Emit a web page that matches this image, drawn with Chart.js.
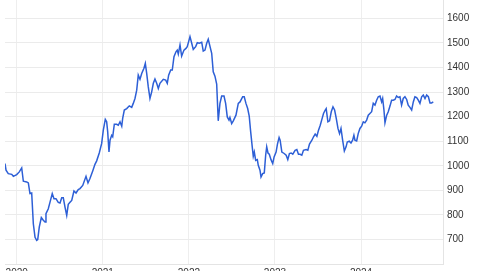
<!DOCTYPE html>
<html>
<head>
<meta charset="utf-8">
<script src="https://cdn.jsdelivr.net/npm/chart.js@4"></script>
<style>
html,body{margin:0;padding:0;background:#fff;overflow:hidden;width:482px;height:271px;}
canvas{display:block;}
</style>
</head>
<body>
<canvas id="c" width="482" height="282"></canvas>
<script>
// Dates as fractional years
const times = [
2019.864,2019.876,2019.902,2019.942,2019.961,2020.000,2020.030,2020.058,2020.077,2020.116,
2020.135,2020.154,2020.174,2020.193,2020.213,2020.232,2020.244,2020.262,2020.286,2020.309,
2020.329,2020.340,2020.367,2020.387,2020.413,2020.433,2020.456,2020.483,2020.503,2020.523,
2020.541,2020.561,2020.581,2020.599,2020.619,2020.639,2020.665,2020.689,2020.715,2020.735,
2020.767,2020.805,2020.828,2020.851,2020.883,2020.909,2020.929,2020.959,2020.987,2021.006,
2021.029,2021.045,2021.057,2021.072,2021.084,2021.103,2021.115,2021.134,2021.161,2021.180,
2021.200,2021.220,2021.231,2021.250,2021.278,2021.308,2021.336,2021.354,2021.374,2021.394,
2021.412,2021.432,2021.452,2021.478,2021.494,2021.510,2021.528,2021.548,2021.568,2021.587,
2021.606,2021.626,2021.645,2021.664,2021.703,2021.731,2021.749,2021.765,2021.789,2021.807,
2021.827,2021.850,2021.865,2021.877,2021.897,2021.916,2021.943,2021.966,2021.981,2022.013,
2022.033,2022.051,2022.079,2022.098,2022.121,2022.149,2022.167,2022.187,2022.207,2022.225,
2022.265,2022.283,2022.303,2022.323,2022.341,2022.361,2022.381,2022.408,2022.427,2022.446,
2022.466,2022.477,2022.497,2022.516,2022.547,2022.574,2022.594,2022.625,2022.643,2022.663,
2022.683,2022.701,2022.718,2022.736,2022.748,2022.760,2022.776,2022.795,2022.806,2022.826,
2022.838,2022.857,2022.876,2022.892,2022.904,2022.919,2022.934,2022.954,2022.974,2022.990,
2023.013,2023.029,2023.048,2023.060,2023.080,2023.107,2023.130,2023.149,2023.168,2023.188,
2023.207,2023.234,2023.254,2023.273,2023.292,2023.312,2023.331,2023.362,2023.382,2023.401,
2023.429,2023.448,2023.467,2023.487,2023.506,2023.526,2023.545,2023.564,2023.584,2023.595,
2023.615,2023.634,2023.654,2023.674,2023.693,2023.712,2023.732,2023.750,2023.767,2023.786,
2023.806,2023.826,2023.840,2023.863,2023.883,2023.902,2023.917,2023.929,2023.949,2023.967,
2023.987,2024.007,2024.026,2024.045,2024.065,2024.084,2024.103,2024.123,2024.142,2024.162,
2024.181,2024.200,2024.220,2024.239,2024.251,2024.266,2024.278,2024.298,2024.316,2024.336,
2024.355,2024.374,2024.394,2024.413,2024.432,2024.452,2024.471,2024.490,2024.510,2024.530,
2024.548,2024.568,2024.588,2024.607,2024.626,2024.646,2024.665,2024.684,2024.704,2024.723,
2024.743,2024.762,2024.782,2024.801,2024.820,2024.839
];
const values = [
1009,982,968,965,957,964,975,991,937,934,
930,887,889,764,709,696,699,750,789,778,
771,805,825,852,887,866,866,851,848,870,
870,832,798,843,851,859,897,889,903,907,
920,957,930,948,979,1006,1020,1052,1091,1145,
1189,1179,1138,1056,1104,1124,1118,1169,1169,1165,
1179,1161,1193,1227,1233,1244,1238,1254,1274,1308,
1369,1352,1376,1397,1417,1376,1322,1274,1301,1336,
1353,1336,1315,1336,1352,1349,1336,1369,1390,1390,
1444,1464,1471,1455,1492,1447,1471,1478,1485,1526,
1499,1474,1485,1501,1499,1503,1467,1471,1499,1515,
1458,1383,1365,1333,1183,1254,1284,1284,1254,1199,
1186,1197,1172,1183,1206,1254,1260,1281,1281,1254,
1233,1202,1138,1077,1039,1056,1022,1025,1002,982,
954,968,971,1043,1077,1052,1047,1025,1009,1036,
1056,1088,1115,1104,1056,1050,1043,1025,1050,1052,
1047,1063,1066,1047,1047,1043,1063,1066,1063,1088,
1104,1118,1129,1120,1145,1165,1189,1213,1227,1233,
1179,1183,1220,1240,1227,1193,1152,1131,1152,1104,
1060,1077,1097,1100,1093,1104,1124,1104,1101,1131,
1152,1161,1179,1175,1186,1206,1213,1220,1254,1247,
1267,1281,1284,1260,1274,1227,1175,1206,1220,1243,
1267,1267,1270,1284,1278,1281,1247,1274,1281,1270,
1247,1238,1227,1260,1281,1278,1267,1254,1281,1288,
1274,1288,1281,1256,1256,1260
];
const xTickYears = [2020, 2021, 2022, 2023, 2024];
const yTickValues = [700, 800, 900, 1000, 1100, 1200, 1300, 1400, 1500, 1600];

const points = times.map((t, i) => ({ x: t, y: values[i] }));
const tickFont = { family: "'Liberation Sans', Arial, Helvetica, sans-serif", size: 10 };
const noPad = s => { s.paddingTop = 0; s.paddingBottom = 0; s.paddingLeft = 0; s.paddingRight = 0; };

new Chart(document.getElementById('c'), {
  type: 'line',
  data: {
    datasets: [{
      data: points,
      borderColor: '#2d5fd6',
      borderWidth: 1.5,
      pointRadius: 0,
      tension: 0,
      fill: false
    }]
  },
  options: {
    responsive: false,
    animation: false,
    devicePixelRatio: 1,
    layout: { padding: { left: 5, right: 0, top: 0, bottom: 0 } },
    plugins: { legend: { display: false }, tooltip: { enabled: false } },
    scales: {
      x: {
        type: 'linear',
        min: 2019.864,
        max: 2024.952,
        afterBuildTicks: s => { s.ticks = xTickYears.map(v => ({ value: v })); },
        afterFit: s => { s.height = 18; noPad(s); },
        ticks: { padding: 3, color: '#333', font: tickFont, callback: v => String(v), maxRotation: 0 },
        grid: { color: '#eeeeee', drawTicks: false },
        border: { display: true, color: '#e4e4e4' }
      },
      y: {
        position: 'right',
        min: 600,
        max: 1675,
        afterBuildTicks: s => { s.ticks = yTickValues.map(v => ({ value: v })); },
        afterFit: s => { s.width = 39; noPad(s); },
        ticks: { padding: 4, color: '#333', font: tickFont, callback: v => String(v) },
        grid: { color: '#ebebeb', drawTicks: false },
        border: { display: true, color: '#e4e4e4' }
      }
    }
  }
});
</script>
</body>
</html>
